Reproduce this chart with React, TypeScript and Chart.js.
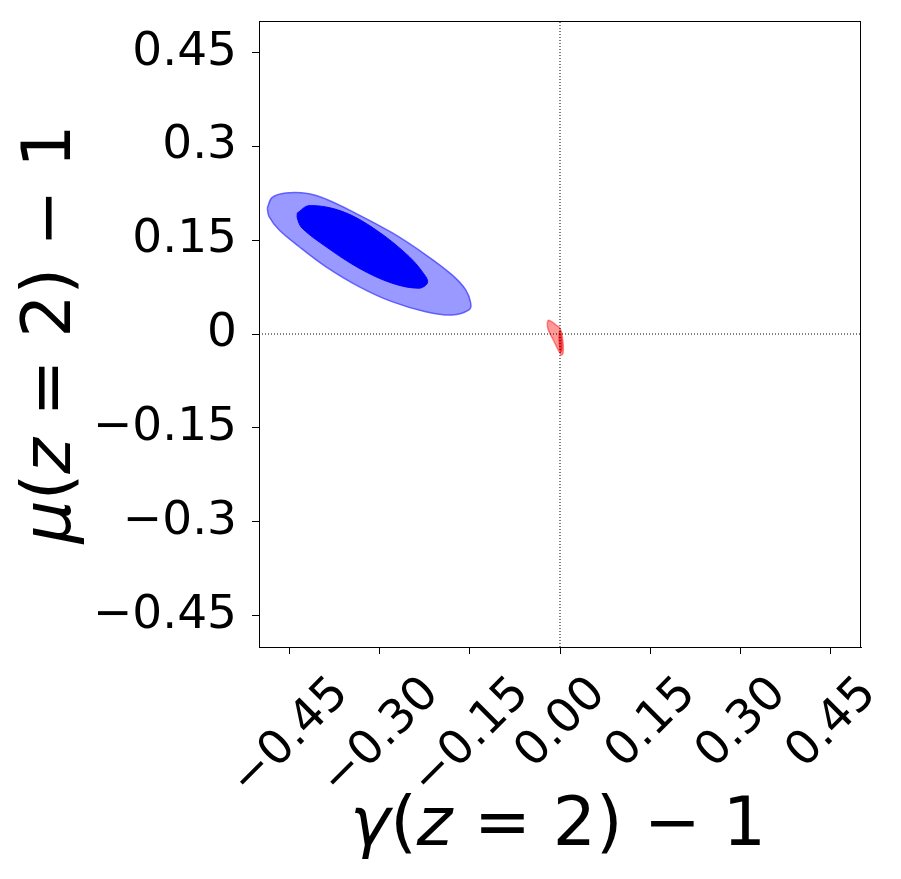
import { useEffect, useRef } from "react";
import { Chart, registerables } from "chart.js";

Chart.register(...registerables);

// Axis ticks
const X_TICKS = [-0.45, -0.3, -0.15, 0, 0.15, 0.3, 0.45];
const X_TICK_LABELS = ["−0.45", "−0.30", "−0.15", "0.00", "0.15", "0.30", "0.45"];
const Y_TICKS = [-0.45, -0.3, -0.15, 0, 0.15, 0.3, 0.45];
const Y_TICK_LABELS = ["−0.45", "−0.3", "−0.15", "0", "0.15", "0.3", "0.45"];
const AXIS_MIN = -0.5;
const AXIS_MAX = 0.5;

// Blue contours (outer = 95%, inner = 68%)
const BLUE_OUTER_X = [-0.4862, -0.4784, -0.4556, -0.4169, -0.3892, -0.3455, -0.2791, -0.2231, -0.1794, -0.1566, -0.1483, -0.1512, -0.1794, -0.2231, -0.2791, -0.3339, -0.3892, -0.4336, -0.4668, -0.4834];
const BLUE_OUTER_Y = [0.2013, 0.2178, 0.2253, 0.2242, 0.2157, 0.1959, 0.1618, 0.1265, 0.0945, 0.0705, 0.0492, 0.0384, 0.0304, 0.0357, 0.0517, 0.0758, 0.1078, 0.1398, 0.1666, 0.1879];
const BLUE_INNER_X = [-0.4364, -0.4169, -0.3621, -0.3061, -0.2508, -0.2231, -0.2204, -0.2342, -0.2791, -0.3339, -0.3892, -0.4286, -0.4364];
const BLUE_INNER_Y = [0.1933, 0.205, 0.1959, 0.1666, 0.1238, 0.0918, 0.0812, 0.0732, 0.0812, 0.1052, 0.1398, 0.1693, 0.1853];

// Red contours
const RED_OUTER_X = [-0.0194, -0.0138, -0.0066, 0.0, 0.0038, 0.0055, 0.0028, -0.0028, -0.0111, -0.0194, -0.0211];
const RED_OUTER_Y = [0.0224, 0.0197, 0.0144, 0.0091, -0.0043, -0.0256, -0.0336, -0.0256, -0.0096, 0.0064, 0.0171];
const RED_INNER_X = [0.0, 0.0028, 0.0033, 0.0008, -0.0017, -0.0017];
const RED_INNER_Y = [0.0064, -0.0064, -0.0256, -0.0288, -0.0128, 0.0016];

const X_TITLE = [
  { t: "γ", italic: true },
  { t: "(", italic: false },
  { t: "z", italic: true },
  { t: " = 2) − 1", italic: false },
];
const Y_TITLE = [
  { t: "μ", italic: true },
  { t: "(", italic: false },
  { t: "z", italic: true },
  { t: " = 2) − 1", italic: false },
];

const FONT = '"DejaVu Sans", sans-serif';
const TICK_SIZE = 47;
const TITLE_SIZE = 68;

function closed(xs: number[], ys: number[]) {
  const pts = xs.map((x, i) => ({ x, y: ys[i] }));
  pts.push({ ...pts[0] });
  return pts;
}

function drawSegments(ctx: CanvasRenderingContext2D, segs: { t: string; italic: boolean }[], size: number) {
  const fonts = segs.map((s) => `${s.italic ? "italic " : ""}${size}px ${FONT}`);
  const widths = segs.map((s, i) => {
    ctx.font = fonts[i];
    return ctx.measureText(s.t).width;
  });
  const total = widths.reduce((a, b) => a + b, 0);
  let x = -total / 2;
  ctx.textAlign = "left";
  ctx.textBaseline = "alphabetic";
  segs.forEach((s, i) => {
    ctx.font = fonts[i];
    ctx.fillText(s.t, x, 0);
    x += widths[i];
  });
}

const decorPlugin = {
  id: "decor",
  afterDraw(chart: any) {
    const { ctx, chartArea } = chart;
    const xs = chart.scales.x;
    ctx.save();
    // frame
    ctx.strokeStyle = "#000";
    ctx.lineWidth = 1;
    ctx.strokeRect(chartArea.left + 0.5, chartArea.top + 0.5, chartArea.right - chartArea.left - 1, chartArea.bottom - chartArea.top);
    // rotated x tick labels
    ctx.fillStyle = "#000";
    ctx.font = `${TICK_SIZE}px ${FONT}`;
    const inkTop = chartArea.bottom + 24;
    X_TICKS.forEach((v, i) => {
      const label = X_TICK_LABELS[i];
      const w = ctx.measureText(label).width;
      const px = xs.getPixelForValue(v) - 2;
      const half = 0.3645 * TICK_SIZE;
      const cy = inkTop + 0.7071 * (w / 2 + half);
      ctx.save();
      ctx.translate(px, cy);
      ctx.rotate(-Math.PI / 4);
      ctx.textAlign = "center";
      ctx.textBaseline = "alphabetic";
      ctx.fillText(label, 0, half);
      ctx.restore();
    });
    // x title
    ctx.save();
    ctx.translate(550, 837);
    drawSegments(ctx, X_TITLE, TITLE_SIZE);
    ctx.restore();
    // y title
    ctx.save();
    ctx.translate(62, (chartArea.top + chartArea.bottom) / 2);
    ctx.rotate(-Math.PI / 2);
    drawSegments(ctx, Y_TITLE, TITLE_SIZE);
    ctx.restore();
    ctx.restore();
  },
};

export default function App() {
  const ref = useRef<HTMLCanvasElement>(null);
  useEffect(() => {
    if (!ref.current) return;
    const lineBase = { showLine: true, pointRadius: 0, pointHoverRadius: 0 };
    const chart = new Chart(ref.current, {
      type: "scatter",
      data: {
        datasets: [
          {
            ...lineBase,
            data: [{ x: 0, y: AXIS_MIN }, { x: 0, y: AXIS_MAX }],
            borderColor: "#000",
            borderWidth: 1,
            borderDash: [1, 2],
            fill: false,
          },
          {
            ...lineBase,
            data: [{ x: AXIS_MIN, y: 0 }, { x: AXIS_MAX, y: 0 }],
            borderColor: "#000",
            borderWidth: 1,
            borderDash: [1, 2],
            fill: false,
          },
          {
            ...lineBase,
            data: closed(RED_INNER_X, RED_INNER_Y),
            borderColor: "rgba(255,0,0,0.5)",
            backgroundColor: "rgba(240,40,40,0.85)",
            borderWidth: 1,
            tension: 0.35,
            fill: "shape",
          },
          {
            ...lineBase,
            data: closed(RED_OUTER_X, RED_OUTER_Y),
            borderColor: "rgba(255,0,0,0.45)",
            backgroundColor: "rgba(255,0,0,0.4)",
            borderWidth: 1.5,
            tension: 0.35,
            fill: "shape",
          },
          {
            ...lineBase,
            data: closed(BLUE_INNER_X, BLUE_INNER_Y),
            borderColor: "#0000ff",
            backgroundColor: "#0000ff",
            borderWidth: 1,
            tension: 0.35,
            fill: "shape",
          },
          {
            ...lineBase,
            data: closed(BLUE_OUTER_X, BLUE_OUTER_Y),
            borderColor: "rgba(60,60,255,0.75)",
            backgroundColor: "rgba(0,0,255,0.4)",
            borderWidth: 1.5,
            tension: 0.35,
            fill: "shape",
          },
        ],
      },
      options: {
        animation: false,
        responsive: false,
        devicePixelRatio: 1,
        layout: { padding: { left: 0, right: 32, top: 13, bottom: 0 } },
        plugins: { legend: { display: false }, tooltip: { enabled: false } },
        events: [],
        scales: {
          x: {
            type: "linear",
            min: AXIS_MIN,
            max: AXIS_MAX,
            afterBuildTicks: (s: any) => {
              s.ticks = X_TICKS.map((v) => ({ value: v }));
            },
            afterFit: (s: any) => {
              s.height = 224;
              s.paddingLeft = 0;
              s.paddingRight = 0;
            },
            ticks: { display: false, autoSkip: false },
            grid: { drawOnChartArea: false, drawTicks: true, tickLength: 7, color: "#000", lineWidth: 1 },
            border: { display: true, color: "#000", width: 1 },
          },
          y: {
            type: "linear",
            min: AXIS_MIN,
            max: AXIS_MAX,
            afterBuildTicks: (s: any) => {
              s.ticks = Y_TICKS.map((v) => ({ value: v }));
            },
            afterFit: (s: any) => {
              s.width = 251;
              s.paddingTop = 0;
              s.paddingBottom = 0;
            },
            ticks: {
              autoSkip: false,
              padding: 15,
              color: "#000",
              font: { family: FONT, size: TICK_SIZE },
              callback: (_v: any, i: number) => Y_TICK_LABELS[i],
            },
            grid: { drawOnChartArea: false, drawTicks: true, tickLength: 7, color: "#000", lineWidth: 1 },
            border: { display: true, color: "#000", width: 1 },
          },
        },
      },
      plugins: [decorPlugin],
    } as any);
    return () => chart.destroy();
  }, []);
  return (
    <div style={{ width: 885, height: 863 }}>
      <canvas ref={ref} width={885} height={863} style={{ display: "block" }} />
    </div>
  );
}
